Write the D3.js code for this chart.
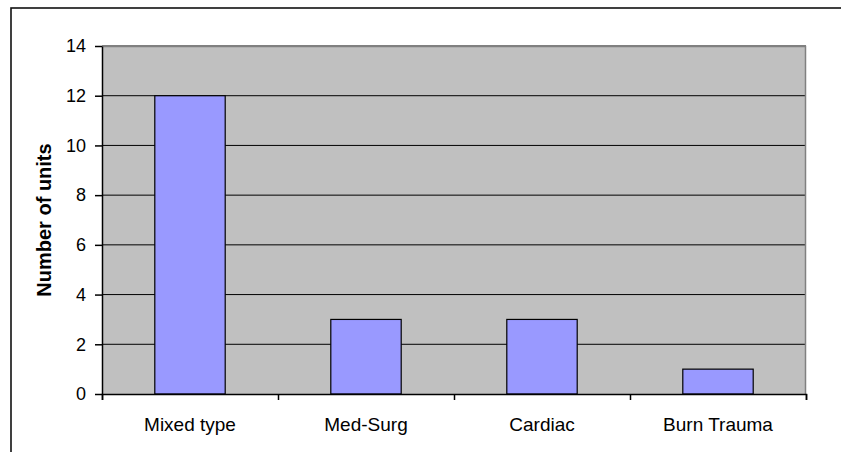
<!DOCTYPE html>
<html>
<head>
  <meta charset="utf-8">
  <title>Number of units</title>
  <style>
  body { margin: 0; background: #fff; }
  svg { display: block; font-family: "Liberation Sans", Arial, sans-serif; }
  .axis text { fill: #000; }
  .axis path, .axis line { stroke: #000; }
  </style>
</head>
<body>
  <svg width="841" height="452"></svg>
  <script src="https://d3js.org/d3.v7.min.js"></script>
  <script>
  // data
  var categories = ["Mixed type", "Med-Surg", "Cardiac", "Burn Trauma"];
  var units = [12, 3, 3, 1];
  var yTicks = [0, 2, 4, 6, 8, 10, 12, 14];

  var svg = d3.select("svg"),
      margin = {top: 46, right: 35, bottom: 58, left: 102},
      width = +svg.attr("width") - margin.left - margin.right,
      height = +svg.attr("height") - margin.top - margin.bottom;

  // chart frame (runs off the right / bottom edge like the original)
  svg.append("rect")
    .attr("x", 11)
    .attr("y", 8)
    .attr("width", 860)
    .attr("height", 480)
    .attr("fill", "none")
    .attr("stroke", "#111")
    .attr("stroke-width", 1.6);

  var g = svg.append("g").attr("transform", "translate(" + margin.left + "," + margin.top + ")");

  var x = d3.scaleBand()
    .domain(categories)
    .range([0, width])
    .paddingInner(0.6)
    .paddingOuter(0.3);

  // category boundaries for the tick marks
  var xEdge = d3.scaleLinear().domain([0, categories.length]).range([0, width]);

  var y = d3.scaleLinear().domain([0, 14]).range([height, 0]);

  // plot area
  g.append("rect")
    .attr("width", width)
    .attr("height", height)
    .attr("fill", "#c0c0c0");

  // gridlines
  g.append("g")
    .selectAll("line")
    .data(yTicks.slice(1))
    .enter().append("line")
    .attr("x1", 0)
    .attr("x2", width)
    .attr("y1", function(d) { return y(d); })
    .attr("y2", function(d) { return y(d); })
    .attr("stroke", "#000")
    .attr("stroke-width", 1);

  // border of plot area (top/right in grey)
  g.append("path")
    .attr("d", "M0,0.5H" + (width - 0.5) + "V" + height)
    .attr("fill", "none")
    .attr("stroke", "#808080")
    .attr("stroke-width", 1.5);

  // bars
  g.selectAll(".bar")
    .data(units)
    .enter().append("rect")
    .attr("class", "bar")
    .attr("x", function(d, i) { return x(categories[i]); })
    .attr("width", x.bandwidth())
    .attr("y", function(d) { return y(d); })
    .attr("height", function(d) { return height - y(d); })
    .attr("fill", "#9999ff")
    .attr("stroke", "#000")
    .attr("stroke-width", 1.2);

  // x axis: ticks at category edges
  g.append("g")
    .attr("class", "axis")
    .attr("transform", "translate(0," + height + ")")
    .call(d3.axisBottom(xEdge).ticks(categories.length).tickSize(6).tickSizeOuter(6).tickFormat(""))
    .call(function(a) { a.selectAll("line, path").attr("stroke-width", 1.5); });

  // x labels
  g.append("g")
    .attr("class", "axis")
    .attr("transform", "translate(0," + height + ")")
    .call(d3.axisBottom(x).tickSize(0).tickPadding(24))
    .call(function(a) {
      a.select(".domain").remove();
      a.selectAll("text").attr("font-size", 19).attr("font-family", "Liberation Sans, Arial, sans-serif");
    });

  // y axis
  g.append("g")
    .attr("class", "axis")
    .call(d3.axisLeft(y).tickValues(yTicks).tickSize(7).tickSizeOuter(0).tickPadding(9))
    .call(function(a) {
      a.selectAll("line, path").attr("stroke-width", 1.5);
      a.selectAll("text").attr("font-size", 18).attr("font-family", "Liberation Sans, Arial, sans-serif");
    });

  // y title
  svg.append("text")
    .attr("transform", "translate(51," + (margin.top + height / 2) + ") rotate(-90)")
    .attr("text-anchor", "middle")
    .attr("font-size", 20)
    .attr("font-weight", "bold")
    .attr("fill", "#000")
    .text("Number of units");
  </script>
</body>
</html>
